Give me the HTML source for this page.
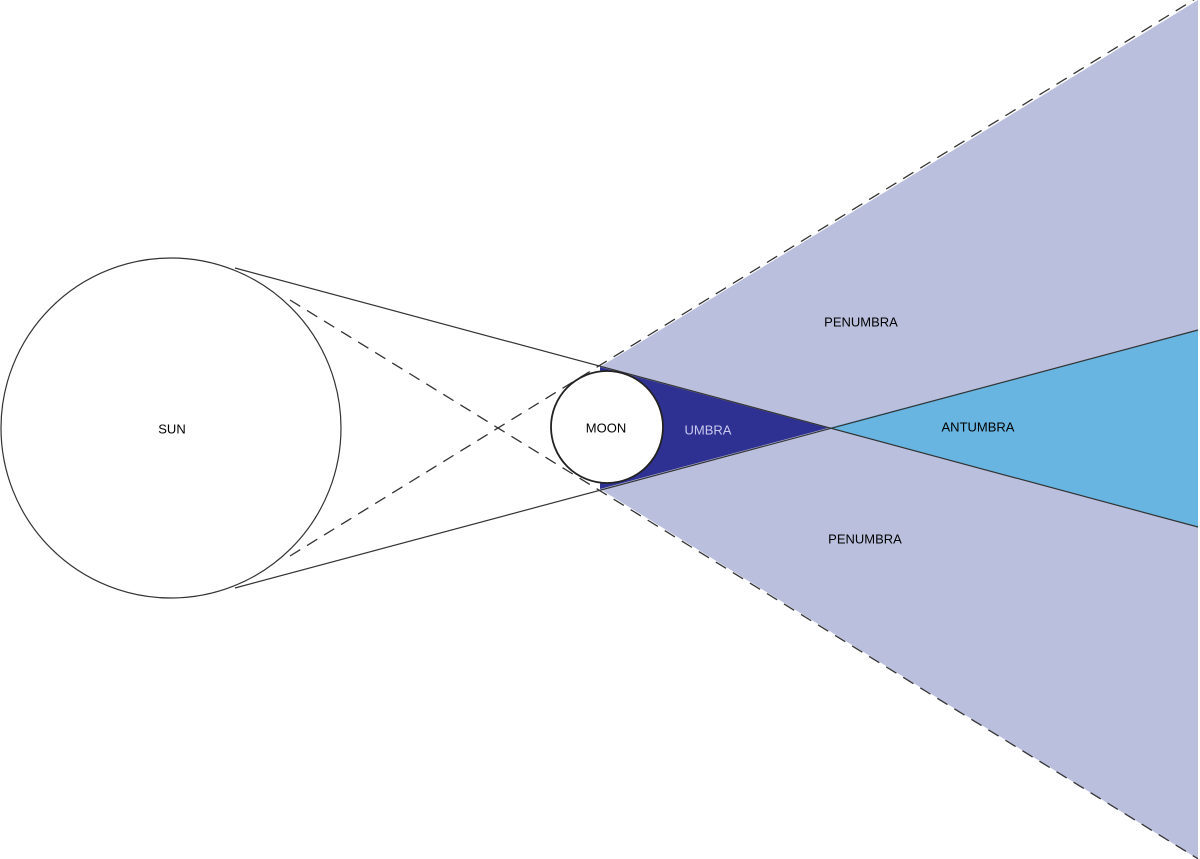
<!DOCTYPE html>
<html><head><meta charset="utf-8"><style>
html,body{margin:0;padding:0;background:#fff;}
svg{display:block}
text{font-family:"Liberation Sans Narrow","Liberation Sans",sans-serif;font-size:13px;text-anchor:middle;dominant-baseline:middle}
</style></head><body>
<svg width="1200" height="859" viewBox="0 0 1200 859" xmlns="http://www.w3.org/2000/svg">
<polygon points="600,367 1198,0 1198,859 600,489" fill="#babfdd"/>
<polygon points="828,428 1198,330 1198,527" fill="#67b5e0"/>
<polygon points="600,367 828,428 600,489" fill="#2e3192"/>
<line x1="235" y1="268" x2="1198" y2="527" stroke="#333" stroke-width="1.2"/>
<line x1="235" y1="588" x2="1198" y2="330" stroke="#333" stroke-width="1.2"/>
<line x1="290" y1="300" x2="1200" y2="860" stroke="#333" stroke-width="1.3" stroke-dasharray="12,8"/>
<line x1="290" y1="556" x2="1200" y2="-4" stroke="#333" stroke-width="1.3" stroke-dasharray="12,8"/>
<circle cx="607" cy="427" r="56" fill="#fff" stroke="#222" stroke-width="1.8"/>
<circle cx="171" cy="428" r="170" fill="#fff" stroke="#333" stroke-width="1.2"/>
<line x1="1199" y1="0" x2="1199" y2="859" stroke="#fff" stroke-width="2"/>
<text x="172" y="430">SUN</text>
<text x="606" y="429">MOON</text>
<text x="708" y="431" fill="#c9c9ee">UMBRA</text>
<text x="978" y="428">ANTUMBRA</text>
<text x="861" y="323">PENUMBRA</text>
<text x="865" y="540">PENUMBRA</text>
</svg>
</body></html>
